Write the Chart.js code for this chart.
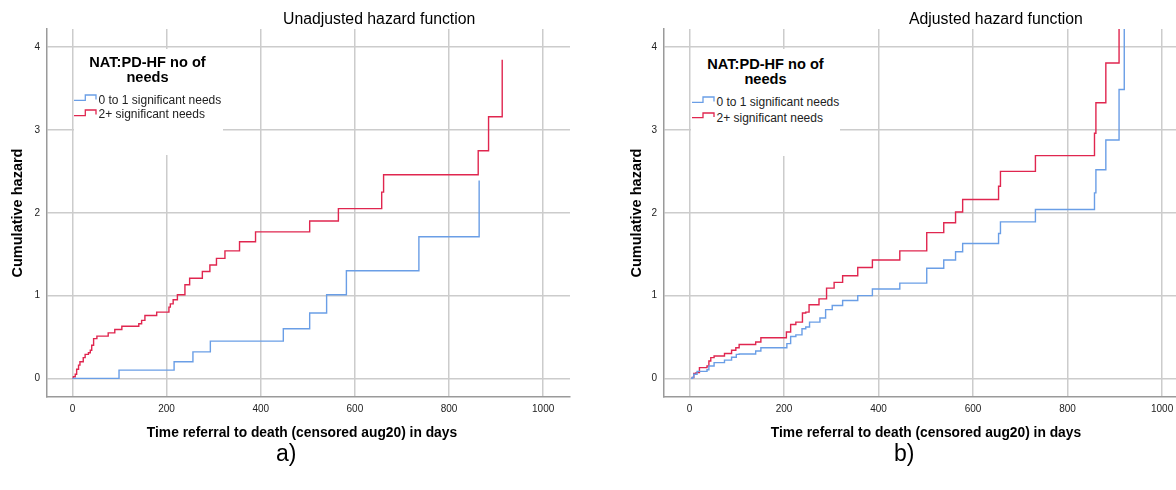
<!DOCTYPE html>
<html>
<head>
<meta charset="utf-8">
<script src="https://cdn.jsdelivr.net/npm/chart.js@4.4.1/dist/chart.umd.min.js"></script>
<style>
  html, body { margin:0; padding:0; width:1176px; height:490px; overflow:hidden; background:#fff; }
  #wrap { position:relative; width:1176px; height:490px; overflow:hidden; font-family:"Liberation Sans", Arial, sans-serif; color:#000; }
  canvas { position:absolute; top:0; }
  .t { position:absolute; white-space:nowrap; }
  .title { font-size:15.8px; line-height:20px; }
  .axt { font-weight:bold; font-size:14.5px; line-height:18px; text-align:center; }
  .axx { font-weight:bold; font-size:13.8px; line-height:18px; text-align:center; }
  .legbox { position:absolute; background:#fff; }
  .legtitle { position:absolute; font-weight:bold; font-size:14.6px; line-height:15px; text-align:center; }
  .legrow { position:absolute; font-size:12px; line-height:14px; color:#222; }
  .sub { font-size:23px; line-height:28px; }
</style>
</head>
<body>
<div id="wrap">
  <canvas id="c1" width="588" height="490" style="left:0px"></canvas>
  <canvas id="c2" width="601" height="490" style="left:588px"></canvas>

  <div class="t title" style="left:283px;top:9px">Unadjusted hazard function</div>
  <div class="t title" style="left:909px;top:9px">Adjusted hazard function</div>

  <div class="t axt" style="left:-63px;top:204px;width:160px;transform:rotate(-90deg)">Cumulative hazard</div>
  <div class="t axt" style="left:556px;top:204px;width:160px;transform:rotate(-90deg)">Cumulative hazard</div>

  <div class="t axx" style="left:102px;top:424px;width:400px">Time referral to death (censored aug20) in days</div>
  <div class="t axx" style="left:726px;top:424px;width:400px">Time referral to death (censored aug20) in days</div>

  <div class="t sub" style="left:276px;top:439px">a)</div>
  <div class="t sub" style="left:894px;top:439px">b)</div>

  <!-- legend a -->
  <div class="legbox" style="left:73.5px;top:49px;width:149px;height:106px"></div>
  <div class="legtitle" style="left:73px;top:54.5px;width:149px">NAT:PD-HF no of<br>needs</div>
  <svg style="position:absolute;left:74px;top:93.7px" width="24" height="8"><path d="M0 6.3 H11.3 V1 H22 V5.5" fill="none" stroke="#6a9ee6" stroke-width="1.3"/></svg>
  <svg style="position:absolute;left:74px;top:109px" width="24" height="8"><path d="M0 6.7 H11.3 V1 H22 V5.5" fill="none" stroke="#e0264f" stroke-width="1.3"/></svg>
  <div class="legrow" style="left:98.5px;top:92.5px">0 to 1 significant needs</div>
  <div class="legrow" style="left:98.5px;top:106.8px">2+ significant needs</div>

  <!-- legend b -->
  <div class="legbox" style="left:691px;top:49px;width:149px;height:107px"></div>
  <div class="legtitle" style="left:691px;top:56.7px;width:149px">NAT:PD-HF no of<br>needs</div>
  <svg style="position:absolute;left:692px;top:96.3px" width="24" height="8"><path d="M0 6.4 H11 V1 H22 V5.5" fill="none" stroke="#6a9ee6" stroke-width="1.3"/></svg>
  <svg style="position:absolute;left:692px;top:111.7px" width="24" height="8"><path d="M0 5.6 H11 V1 H22 V5" fill="none" stroke="#e0264f" stroke-width="1.3"/></svg>
  <div class="legrow" style="left:716.5px;top:95.2px">0 to 1 significant needs</div>
  <div class="legrow" style="left:716.5px;top:110.7px">2+ significant needs</div>
</div>

<script>
// ---- tick labels ----
const xTicks = [0, 200, 400, 600, 800, 1000];
const yTicks = [0, 1, 2, 3, 4];

// ---- a) Unadjusted ----
const unadjLowDays = [0, 99, 216, 256, 293, 448, 504, 540, 582, 736, 864];
const unadjLowHaz  = [0, 0.10, 0.20, 0.32, 0.45, 0.60, 0.79, 1.01, 1.30, 1.71, 2.39];

const unadjHighDays = [0, 2, 6, 9, 13, 16, 23, 27, 34, 38, 41, 45, 52, 76, 90, 105, 141, 147, 154, 179, 205, 208, 214, 223, 239, 249, 276, 292, 306, 324, 355, 389, 504, 565, 657, 661, 862, 884, 913];
const unadjHighHaz  = [0, 0.02, 0.05, 0.11, 0.16, 0.20, 0.25, 0.29, 0.31, 0.34, 0.40, 0.48, 0.51, 0.55, 0.59, 0.63, 0.66, 0.70, 0.76, 0.80, 0.86, 0.90, 0.95, 1.01, 1.13, 1.21, 1.29, 1.37, 1.45, 1.54, 1.65, 1.77, 1.90, 2.05, 2.25, 2.46, 2.75, 3.16, 3.85];

// ---- b) Adjusted ----
const adjLowDays = [3, 6, 9, 16, 37, 41, 52, 74, 89, 99, 105, 140, 151, 206, 214, 225, 238, 246, 254, 276, 288, 302, 324, 356, 387, 445, 502, 538, 563, 578, 654, 658, 732, 857, 860, 881, 909, 920];
const adjLowHaz  = [0, 0.01, 0.05, 0.085, 0.105, 0.15, 0.19, 0.22, 0.255, 0.29, 0.295, 0.33, 0.37, 0.42, 0.505, 0.525, 0.60, 0.62, 0.68, 0.73, 0.83, 0.88, 0.94, 1.00, 1.08, 1.15, 1.33, 1.43, 1.53, 1.63, 1.75, 1.89, 2.04, 2.24, 2.52, 2.88, 3.49, 4.8];

const adjHighDays = [3, 6, 9, 14, 21, 37, 41, 45, 52, 74, 89, 98, 105, 140, 151, 205, 214, 225, 239, 246, 253, 274, 290, 306, 324, 356, 387, 445, 502, 538, 563, 578, 654, 658, 732, 857, 860, 881, 909];
const adjHighHaz  = [0, 0.01, 0.06, 0.07, 0.13, 0.15, 0.21, 0.25, 0.27, 0.30, 0.34, 0.37, 0.41, 0.44, 0.49, 0.56, 0.65, 0.68, 0.79, 0.80, 0.89, 0.96, 1.09, 1.16, 1.24, 1.34, 1.43, 1.54, 1.76, 1.88, 2.01, 2.16, 2.32, 2.50, 2.69, 2.96, 3.33, 3.81, 4.8];

const seriesNames = ['0 to 1 significant needs', '2+ significant needs'];
const BLUE = '#6a9ee6', RED = '#e0264f';

Chart.defaults.font.family = '"Liberation Sans", Arial, sans-serif';

function pts(xs, ys) { return xs.map((x, i) => ({ x: x, y: ys[i] })); }

function makeChart(id, lowD, lowH, highD, highH, yWidth, padRight) {
  new Chart(document.getElementById(id), {
    type: 'line',
    data: {
      datasets: [
        { label: seriesNames[0], data: pts(lowD, lowH), borderColor: BLUE, borderWidth: 1.4, stepped: 'before', pointRadius: 0, fill: false, tension: 0 },
        { label: seriesNames[1], data: pts(highD, highH), borderColor: RED, borderWidth: 1.4, stepped: 'before', pointRadius: 0, fill: false, tension: 0 }
      ]
    },
    options: {
      responsive: false,
      animation: false,
      devicePixelRatio: 1,
      events: [],
      layout: { padding: { left: 0, top: 29, right: padRight, bottom: 0 } },
      plugins: { legend: { display: false }, tooltip: { enabled: false }, title: { display: false } },
      scales: {
        x: {
          type: 'linear', min: -54, max: 1057,
          afterBuildTicks: s => { s.ticks = xTicks.map(v => ({ value: v })); },
          afterFit: s => { s.height = 93; },
          grid: { color: '#cccccc', lineWidth: 1.5, drawTicks: false },
          border: { display: true, color: '#9a9a9a', width: 1.5 },
          ticks: { padding: 6, color: '#222', font: { size: 10 }, maxRotation: 0, callback: v => String(v) }
        },
        y: {
          type: 'linear', min: -0.225, max: 4.22,
          afterBuildTicks: s => { s.ticks = yTicks.map(v => ({ value: v })); },
          afterFit: s => { s.width = yWidth; },
          grid: { color: '#cccccc', lineWidth: 1.5, drawTicks: false },
          border: { display: true, color: '#9a9a9a', width: 1.5 },
          ticks: { padding: 7, color: '#222', font: { size: 10 }, callback: v => String(v) }
        }
      }
    }
  });
}

makeChart('c1', unadjLowDays, unadjLowHaz, unadjHighDays, unadjHighHaz, 47, 18);
makeChart('c2', adjLowDays, adjLowHaz, adjHighDays, adjHighHaz, 76, 0);
</script>
</body>
</html>
